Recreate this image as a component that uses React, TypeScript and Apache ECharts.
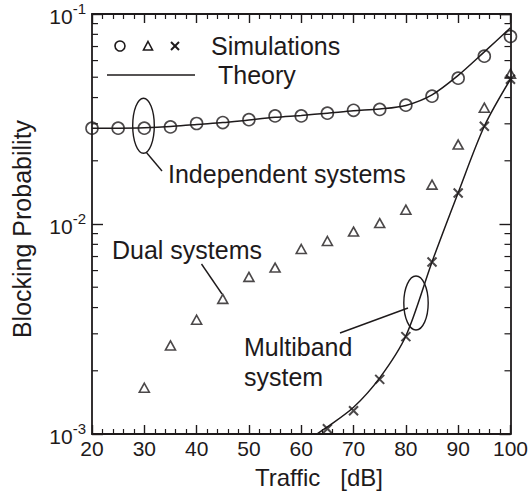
import React, { useEffect, useRef } from "react";
import * as echarts from "echarts";

const traffic = [20, 25, 30, 35, 40, 45, 50, 55, 60, 65, 70, 75, 80, 85, 90, 95, 100];
const independentSim = [0.0286, 0.0286, 0.0286, 0.029, 0.0301, 0.0304, 0.0314, 0.0327, 0.0327, 0.0337, 0.0348, 0.0351, 0.0368, 0.0406, 0.0495, 0.063, 0.0782];
const independentTheory = [0.0286, 0.0286, 0.0287, 0.0291, 0.0298, 0.0304, 0.0313, 0.0322, 0.0329, 0.0337, 0.0346, 0.0353, 0.0367, 0.0412, 0.051, 0.066, 0.086];
const dualTraffic = [30, 35, 40, 45, 50, 55, 60, 65, 70, 75, 80, 85, 90, 95, 100];
const dualSim = [0.00166, 0.00264, 0.0035, 0.0044, 0.0056, 0.0062, 0.0076, 0.0083, 0.0092, 0.0101, 0.0117, 0.0154, 0.0239, 0.0358, 0.052];
const multiTraffic = [65, 70, 75, 80, 85, 90, 95, 100];
const multiSim = [0.00106, 0.00129, 0.00182, 0.00291, 0.00659, 0.01406, 0.0292, 0.0489];
const multiTheoryTraffic = [62.2, 65, 70, 75, 80, 85, 90, 95, 100];
const multiTheory = [0.00097, 0.00108, 0.00134, 0.00185, 0.00293, 0.0066, 0.0141, 0.0292, 0.0489];
const yMinorTicks = [0.002, 0.003, 0.004, 0.005, 0.006, 0.007, 0.008, 0.009, 0.02, 0.03, 0.04, 0.05, 0.06, 0.07, 0.08, 0.09];

const INK = "#1e1a1b";
const FONT = "Liberation Sans, Arial, Helvetica, sans-serif";

export default function App() {
  const ref = useRef<HTMLDivElement>(null);
  useEffect(() => {
    document.body.style.margin = "0";
    const chart = echarts.init(ref.current!, null, { renderer: "svg" });
    const zip = (xs: number[], ys: number[]) => xs.map((x, i) => [x, ys[i]]);
    const xBase = {
      type: "value",
      min: 20,
      max: 100,
      interval: 10,
      splitLine: { show: false },
      axisLine: { lineStyle: { color: INK, width: 1.8 } },
      axisTick: { inside: true, length: 9, lineStyle: { color: INK, width: 1.4 } },
      minorTick: { show: true, splitNumber: 5, length: 5, lineStyle: { color: INK, width: 1.2 } },
    };
    const yBase = {
      type: "log",
      logBase: 10,
      min: 0.001,
      max: 0.1,
      splitLine: { show: false },
      axisLine: { lineStyle: { color: INK, width: 1.8 } },
      axisTick: { inside: true, length: 11, lineStyle: { color: INK, width: 1.4 } },
    };
    const text = (x: number, y: number, t: string, size = 24) => ({
      type: "text",
      x,
      y,
      style: { text: t, fill: INK, font: `${size}px ${FONT}`, textAlign: "left", textVerticalAlign: "middle" },
    });
    const line = (x1: number, y1: number, x2: number, y2: number, w = 1.4) => ({
      type: "line",
      shape: { x1, y1, x2, y2 },
      style: { stroke: INK, lineWidth: w },
    });
    chart.setOption({
      animation: false,
      backgroundColor: "#fff",
      grid: { left: 92, right: 18, top: 14, bottom: 62 },
      xAxis: [
        {
          ...xBase,
          position: "bottom",
          axisLabel: { color: INK, fontSize: 21, fontFamily: FONT, margin: 4 },
        },
        { ...xBase, position: "top", axisLabel: { show: false } },
      ],
      yAxis: [
        {
          ...yBase,
          position: "left",
          axisLabel: {
            color: INK,
            margin: 6,
            formatter: (v: number) => `{b|10}{s|${Math.round(Math.log10(v))}}`,
            rich: {
              b: { fontSize: 21, fontFamily: FONT, color: INK, lineHeight: 26, verticalAlign: "bottom" },
              s: { fontSize: 15, fontFamily: FONT, color: INK, lineHeight: 26, verticalAlign: "top" },
            },
          },
        },
        { ...yBase, position: "right", axisLabel: { show: false } },
      ],
      series: [
        {
          type: "custom",
          name: "yMinor",
          silent: true,
          data: yMinorTicks.map((v) => [20, v]),
          encode: { x: 0, y: 1 },
          renderItem: (params: any, api: any) => {
            const y = api.coord([20, api.value(1)])[1];
            const cs = params.coordSys;
            return {
              type: "group",
              children: [
                { type: "line", shape: { x1: cs.x, y1: y, x2: cs.x + 6, y2: y }, style: { stroke: INK, lineWidth: 1.2 } },
                { type: "line", shape: { x1: cs.x + cs.width - 6, y1: y, x2: cs.x + cs.width, y2: y }, style: { stroke: INK, lineWidth: 1.2 } },
              ],
            };
          },
        },
        {
          type: "line",
          name: "Independent theory",
          data: zip(traffic, independentTheory),
          showSymbol: false,
          smooth: 0.3,
          lineStyle: { color: INK, width: 1.5 },
        },
        {
          type: "line",
          name: "Multiband theory",
          data: zip(multiTheoryTraffic, multiTheory),
          showSymbol: false,
          smooth: 0.3,
          clip: true,
          lineStyle: { color: INK, width: 1.5 },
        },
        {
          type: "scatter",
          name: "Independent systems",
          data: zip(traffic, independentSim),
          symbol: "circle",
          symbolSize: 12,
          itemStyle: { color: "transparent", borderColor: INK, borderWidth: 1.6 },
        },
        {
          type: "scatter",
          name: "Dual systems",
          data: zip(dualTraffic, dualSim),
          symbol: "triangle",
          symbolSize: [10, 9],
          itemStyle: { color: "transparent", borderColor: INK, borderWidth: 1.6 },
        },
        {
          type: "scatter",
          name: "Multiband system",
          data: zip(multiTraffic, multiSim),
          symbol: "path://M0,0L10,10M10,0L0,10",
          symbolSize: 9,
          itemStyle: { color: "transparent", borderColor: INK, borderWidth: 2 },
        },
      ],
      graphic: [
        // legend
        { type: "circle", shape: { cx: 120, cy: 46, r: 5 }, style: { fill: "none", stroke: INK, lineWidth: 1.6 } },
        { type: "polygon", shape: { points: [[148, 41.5], [152.5, 50], [143.5, 50]] }, style: { fill: "none", stroke: INK, lineWidth: 1.6 } },
        line(171, 42, 179, 50, 2),
        line(179, 42, 171, 50, 2),
        text(211, 46, "Simulations", 25),
        line(107, 75, 195, 75, 1.5),
        text(218, 75, "Theory", 25),
        // annotations
        { type: "ellipse", shape: { cx: 143.5, cy: 125.8, rx: 10.8, ry: 27.5 }, style: { fill: "none", stroke: INK, lineWidth: 1.4 } },
        line(146, 152, 162, 171),
        text(168, 174, "Independent systems", 25),
        text(112, 250, "Dual systems", 25),
        line(201.5, 264, 222, 294),
        text(244, 347, "Multiband", 25),
        text(244, 377, "system", 25),
        { type: "ellipse", shape: { cx: 416, cy: 303, rx: 12.2, ry: 27 }, style: { fill: "none", stroke: INK, lineWidth: 1.4 } },
        line(340, 333, 408, 308),
        // axis titles
        text(255, 477, "Traffic\u00a0\u00a0\u00a0[dB]", 24),
        {
          type: "text",
          x: 22,
          y: 229,
          rotation: Math.PI / 2,
          style: { text: "Blocking Probability", fill: INK, font: `25px ${FONT}`, textAlign: "center", textVerticalAlign: "middle" },
        },
      ],
    });
    return () => chart.dispose();
  }, []);
  return <div ref={ref} style={{ width: 531, height: 496 }} />;
}
